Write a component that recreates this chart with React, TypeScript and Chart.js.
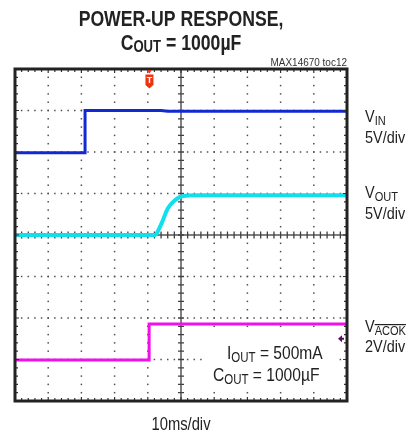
import React, { useEffect, useRef } from 'react';
import { Chart, registerables } from 'chart.js';

Chart.register(...registerables);

// ---- data (time in ms, level in screen divisions 0..8) ----
const vinTime = [0, 21.1, 21.1, 44, 46, 100];
const vinLevel = [5.98, 5.98, 7.0, 7.0, 6.98, 6.98];
const voutTime = [0, 42.2, 43.1, 44.3, 46.1, 48.2, 49.7, 52.1, 55.7, 100];
const voutLevel = [4.0, 4.0, 4.1, 4.31, 4.65, 4.84, 4.92, 4.95, 4.96, 4.96];
const acokTime = [0, 40.4, 40.4, 100];
const acokLevel = [0.99, 0.99, 1.855, 1.855];
const triggerTime = 40.5;
const acokTriggerLevel = 1.5;
const xDivisions = 10;
const yDivisions = 8;
const msPerDiv = 10;
const channelNames = ['VIN', 'VOUT', 'VACOK'];
const channelScales = ['5V/div', '5V/div', '2V/div'];

const FONT = "'Liberation Sans', Arial, sans-serif";

type Part = { t: string; size: number; bold?: boolean; dy?: number; over?: boolean };

function drawRich(ctx: CanvasRenderingContext2D, x: number, y: number, parts: Part[], align: 'left' | 'center' | 'right', sx: number, color = '#222') {
  ctx.save();
  ctx.fillStyle = color;
  ctx.strokeStyle = color;
  ctx.textBaseline = 'alphabetic';
  ctx.textAlign = 'left';
  let total = 0;
  const widths = parts.map((p) => {
    ctx.font = `${p.bold ? 'bold ' : ''}${p.size}px ${FONT}`;
    const w = ctx.measureText(p.t).width;
    total += w;
    return w;
  });
  let start = x;
  if (align === 'center') start = x - (total * sx) / 2;
  if (align === 'right') start = x - total * sx;
  ctx.translate(start, y);
  ctx.scale(sx, 1);
  let cx = 0;
  parts.forEach((p, i) => {
    ctx.font = `${p.bold ? 'bold ' : ''}${p.size}px ${FONT}`;
    const dy = p.dy || 0;
    ctx.fillText(p.t, cx, dy);
    if (p.over) {
      ctx.lineWidth = 1.2;
      const oy = dy - p.size * 0.8;
      ctx.beginPath();
      ctx.moveTo(cx, oy);
      ctx.lineTo(cx + widths[i], oy);
      ctx.stroke();
    }
    cx += widths[i];
  });
  ctx.restore();
}

const scopePlugin = {
  id: 'scope',
  beforeDatasetsDraw(chart: any) {
    const { ctx, chartArea: a, scales } = chart;
    const x = scales.x;
    const y = scales.y;
    const xMax = xDivisions * msPerDiv;
    ctx.save();
    // dotted grid
    ctx.fillStyle = '#505050';
    for (let i = 1; i < xDivisions; i++) {
      if (i === xDivisions / 2) continue;
      const px = x.getPixelForValue(i * msPerDiv);
      for (let k = 1; k < yDivisions * 5; k++) {
        const py = y.getPixelForValue(k * 0.2);
        ctx.fillRect(px - 0.75, py - 0.75, 1.5, 1.5);
      }
    }
    for (let j = 1; j < yDivisions; j++) {
      if (j === yDivisions / 2) continue;
      const py = y.getPixelForValue(j);
      for (let k = 1; k < xDivisions * 5; k++) {
        const px = x.getPixelForValue((k * msPerDiv) / 5);
        ctx.fillRect(px - 0.75, py - 0.75, 1.5, 1.5);
      }
    }
    // center axes
    const cx = x.getPixelForValue(xMax / 2);
    const cy = y.getPixelForValue(yDivisions / 2);
    ctx.strokeStyle = '#808080';
    ctx.lineWidth = 2;
    ctx.beginPath();
    ctx.moveTo(cx, a.top);
    ctx.lineTo(cx, a.bottom);
    ctx.moveTo(a.left, cy);
    ctx.lineTo(a.right, cy);
    ctx.stroke();
    ctx.strokeStyle = '#404040';
    ctx.lineWidth = 1.3;
    ctx.beginPath();
    for (let k = 1; k < yDivisions * 5; k++) {
      const py = y.getPixelForValue(k * 0.2);
      ctx.moveTo(cx - 3, py);
      ctx.lineTo(cx + 3, py);
    }
    for (let k = 1; k < xDivisions * 5; k++) {
      const px = x.getPixelForValue((k * msPerDiv) / 5);
      ctx.moveTo(px, cy - 3.5);
      ctx.lineTo(px, cy + 3.5);
    }
    ctx.stroke();
    // white annotation box behind the text
    ctx.fillStyle = '#fff';
    ctx.fillRect(x.getPixelForValue(57.5), y.getPixelForValue(1.65), x.getPixelForValue(97) - x.getPixelForValue(57.5), y.getPixelForValue(0.25) - y.getPixelForValue(1.65));
    ctx.restore();
  },
  afterDatasetsDraw(chart: any) {
    const { ctx, chartArea: a, scales } = chart;
    const x = scales.x;
    const y = scales.y;
    ctx.save();
    // frame ticks
    ctx.strokeStyle = '#333';
    ctx.lineWidth = 1.2;
    ctx.beginPath();
    for (let k = 1; k < xDivisions * 5; k++) {
      const px = x.getPixelForValue((k * msPerDiv) / 5);
      const len = k % 5 === 0 ? 4 : 3;
      ctx.moveTo(px, a.top);
      ctx.lineTo(px, a.top + len);
      ctx.moveTo(px, a.bottom);
      ctx.lineTo(px, a.bottom - len);
    }
    for (let k = 1; k < yDivisions * 5; k++) {
      const py = y.getPixelForValue(k * 0.2);
      const len = k % 5 === 0 ? 4 : 3;
      ctx.moveTo(a.left, py);
      ctx.lineTo(a.left + len, py);
      ctx.moveTo(a.right, py);
      ctx.lineTo(a.right - len, py);
    }
    ctx.stroke();
    // frame
    ctx.strokeStyle = '#222';
    ctx.lineWidth = 3;
    ctx.strokeRect(a.left, a.top, a.right - a.left, a.bottom - a.top);

    // trigger marker
    const tx = x.getPixelForValue(triggerTime);
    ctx.fillStyle = '#ee3311';
    ctx.beginPath();
    ctx.moveTo(tx - 2.5, a.top + 1);
    ctx.lineTo(tx + 2.5, a.top + 1);
    ctx.lineTo(tx, a.top + 4.5);
    ctx.closePath();
    ctx.fill();
    ctx.beginPath();
    ctx.moveTo(tx - 4, a.top + 5.5);
    ctx.lineTo(tx + 4, a.top + 5.5);
    ctx.lineTo(tx + 4, a.top + 16);
    ctx.lineTo(tx, a.top + 19.5);
    ctx.lineTo(tx - 4, a.top + 16);
    ctx.closePath();
    ctx.fill();
    ctx.fillStyle = '#fff';
    ctx.font = `bold 9px ${FONT}`;
    ctx.textAlign = 'center';
    ctx.textBaseline = 'middle';
    ctx.fillText('T', tx, a.top + 12);

    // ACOK trigger level arrow
    const ay = y.getPixelForValue(acokTriggerLevel);
    const ax = a.right - 3;
    ctx.fillStyle = '#5e0a5e';
    ctx.beginPath();
    ctx.moveTo(ax - 6, ay);
    ctx.lineTo(ax - 2, ay - 3.5);
    ctx.lineTo(ax - 2, ay + 3.5);
    ctx.closePath();
    ctx.fill();
    ctx.fillRect(ax - 3, ay - 1, 3, 2);
    ctx.restore();
  },
  afterDraw(chart: any) {
    const { ctx } = chart;
    drawRich(ctx, 181, 26, [{ t: 'POWER-UP RESPONSE,', size: 21.5, bold: true }], 'center', 0.82);
    drawRich(ctx, 181, 50, [
      { t: 'C', size: 21.5, bold: true },
      { t: 'OUT', size: 16, bold: true, dy: 2 },
      { t: ' = 1000µF', size: 21.5, bold: true },
    ], 'center', 0.82);
    drawRich(ctx, 347, 66, [{ t: 'MAX14670 toc12', size: 10.5 }], 'right', 0.95, '#333');

    const rx = 365;
    drawRich(ctx, rx, 122, [{ t: 'V', size: 17 }, { t: channelNames[0].slice(1), size: 13, dy: 3 }], 'left', 0.85);
    drawRich(ctx, rx, 143, [{ t: channelScales[0], size: 17 }], 'left', 0.85);
    drawRich(ctx, rx, 198, [{ t: 'V', size: 17 }, { t: channelNames[1].slice(1), size: 13, dy: 3 }], 'left', 0.85);
    drawRich(ctx, rx, 219, [{ t: channelScales[1], size: 17 }], 'left', 0.85);
    drawRich(ctx, rx, 332, [{ t: 'V', size: 17 }, { t: channelNames[2].slice(1), size: 13, dy: 3, over: true }], 'left', 0.85);
    drawRich(ctx, rx, 352, [{ t: channelScales[2], size: 17 }], 'left', 0.85);

    drawRich(ctx, 227, 359, [
      { t: 'I', size: 19 },
      { t: 'OUT', size: 14, dy: 3 },
      { t: ' = 500mA', size: 19 },
    ], 'left', 0.82);
    drawRich(ctx, 213, 381, [
      { t: 'C', size: 19 },
      { t: 'OUT', size: 14, dy: 3 },
      { t: ' = 1000µF', size: 19 },
    ], 'left', 0.82);
    drawRich(ctx, 181, 430, [{ t: `${msPerDiv}ms/div`, size: 18 }], 'center', 0.82);
  },
};

function toPoints(t: number[], v: number[]) {
  return t.map((tt, i) => ({ x: tt, y: v[i] }));
}

export default function App() {
  const ref = useRef<HTMLCanvasElement | null>(null);
  useEffect(() => {
    if (!ref.current) return;
    const chart = new Chart(ref.current, {
      type: 'line',
      data: {
        datasets: [
          { label: 'VIN', data: toPoints(vinTime, vinLevel), borderColor: '#1428d2', borderWidth: 3, pointRadius: 0, fill: false },
          { label: 'VOUT', data: toPoints(voutTime, voutLevel), borderColor: '#10e0ee', borderWidth: 4, pointRadius: 0, fill: false, cubicInterpolationMode: 'monotone' },
          { label: 'VACOK', data: toPoints(acokTime, acokLevel), borderColor: '#f010e8', borderWidth: 3, pointRadius: 0, fill: false },
        ],
      } as any,
      options: {
        animation: false,
        responsive: false,
        maintainAspectRatio: false,
        layout: { padding: { left: 15, right: 69, top: 69, bottom: 34 } },
        scales: {
          x: { type: 'linear', min: 0, max: xDivisions * msPerDiv, display: false },
          y: { type: 'linear', min: 0, max: yDivisions, display: false },
        },
        plugins: { legend: { display: false }, tooltip: { enabled: false } },
        elements: { point: { radius: 0 }, line: { tension: 0 } },
      } as any,
      plugins: [scopePlugin],
    });
    return () => chart.destroy();
  }, []);
  return (
    <div style={{ position: 'absolute', left: 0, top: 0, width: 416, height: 435, background: '#fff' }}>
      <canvas ref={ref} width={416} height={435} style={{ width: 416, height: 435, display: 'block' }} />
    </div>
  );
}
